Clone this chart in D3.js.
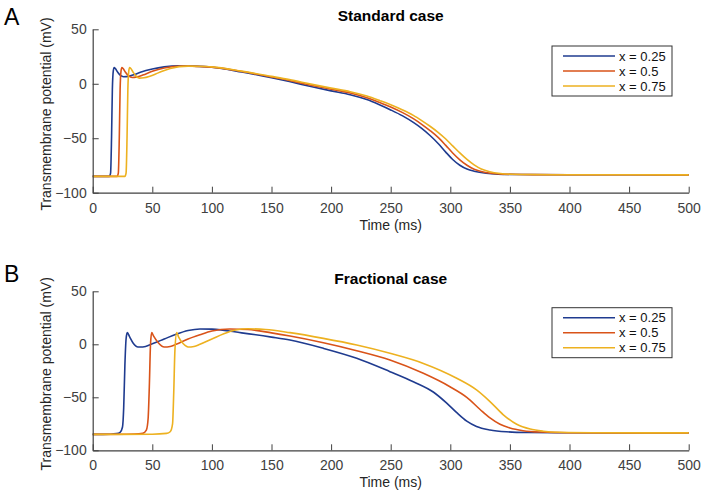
<!DOCTYPE html>
<html>
<head>
<meta charset="utf-8">
<script src="https://cdn.jsdelivr.net/npm/d3@7"></script>
<style>
  body { margin: 0; background: #fff; }
  svg { display: block; font-family: "Liberation Sans", Arial, sans-serif; }
</style>
</head>
<body>
<svg id="chart" width="703" height="494"></svg>
<script>
// series labels, colours
var seriesNames = ["x = 0.25", "x = 0.5", "x = 0.75"];
var seriesColors = ["#1f3b8f", "#d95319", "#edb120"];

var xTicks = [0, 50, 100, 150, 200, 250, 300, 350, 400, 450, 500];
var yTicks = [-100, -50, 0, 50];

// panel A, standard case: [time ms, potential mV]
var stdX025 = [[0,-85],[14,-85],[15,-82],[15.8,-50],[16.5,-5],[17.3,12],[18,15],[19,14],[21,10.5],[23,8],[26,6.5],[30,6.8],[35,8.5],[40,10.5],[50,13.5],[60,15.5],[72,16.5],[85,16.2],[100,15.2],[125,10.8],[150,5.5],[165,2],[183,-2.5],[200,-6.5],[216,-10],[230,-14.5],[241,-19.5],[250,-24],[260,-29.5],[269,-35.5],[276,-41],[283,-47.5],[290,-55],[296,-62.5],[302,-69.5],[308,-74.8],[314,-78.3],[320,-80.3],[330,-82.2],[340,-83],[355,-83.3],[400,-83.5],[500,-83.6]];
var stdX05 = [[0,-85],[20.5,-85],[21.5,-82],[22.3,-50],[23,-5],[23.8,12],[24.5,15],[25.5,14],[27.5,10.5],[30,7.5],[33,5.8],[37,6.3],[42,8],[50,11.5],[60,14.5],[75,16.3],[90,15.8],[100,15.3],[125,11.2],[150,6.2],[165,3],[183,-1.3],[200,-5],[216,-8.5],[230,-12.8],[241,-17.3],[250,-21.3],[260,-26.5],[269,-32],[276,-37.2],[283,-43],[290,-49.5],[296,-56.3],[302,-63.5],[308,-69.8],[314,-74.8],[320,-78.5],[326,-80.6],[334,-82.2],[345,-83],[360,-83.3],[400,-83.5],[500,-83.6]];
var stdX075 = [[0,-85],[27,-85],[28,-82],[28.8,-50],[29.5,-5],[30.3,12],[31,15],[32,14],[34,10.5],[36,7.5],[39,5.2],[43,5.5],[48,7],[55,10],[65,14],[80,16.2],[95,15.8],[100,15.5],[125,11.6],[150,6.8],[165,3.8],[183,-0.3],[200,-4],[216,-7.3],[230,-11.3],[241,-15.5],[250,-19.2],[260,-24],[269,-29],[276,-33.8],[283,-39],[290,-44.8],[296,-50.5],[302,-57],[308,-63.5],[314,-69.5],[320,-74.5],[326,-78.3],[333,-80.8],[342,-82.4],[352,-83.1],[365,-83.3],[400,-83.5],[500,-83.6]];

// panel B, fractional case
var fracX025 = [[0,-85],[15,-84.8],[20,-84.3],[23,-83],[25,-78],[26,-60],[27,-20],[28,5],[29,11],[31,7],[34,1],[38,-2.5],[42,-2.5],[50,0.5],[60,5],[70,9.5],[80,13],[90,14.5],[100,14.3],[125,10.8],[150,6.8],[165.5,4],[193.5,-3.8],[221.5,-13.2],[249.4,-25.8],[269,-35.3],[285.7,-45],[297,-55.5],[305.4,-64.5],[313.8,-72.5],[322,-77.5],[333.3,-80.8],[347,-82.5],[365,-83.2],[400,-83.5],[500,-83.6]];
var fracX05 = [[0,-85],[35,-84.6],[42,-84],[45,-81],[46.5,-70],[47.5,-40],[48.5,0],[49.5,11],[51,8],[55,1.5],[60,-2.5],[65,-2],[70,0],[80,5],[90,9],[100,12.5],[115,14.5],[130,14],[150,10.8],[165.5,7.8],[193.5,1.5],[221.5,-6],[249.4,-14.8],[277.4,-27.4],[299.7,-40],[313.8,-50],[325,-61.5],[333.3,-69.5],[341.7,-75.5],[350,-79],[361,-81.5],[375,-82.8],[400,-83.4],[500,-83.6]];
var fracX075 = [[0,-85],[50,-84.8],[62,-84],[65,-82.5],[67,-75],[68,-45],[69,-5],[70.5,11],[72,7],[76,0.5],[80,-2.5],[85,-2],[90,0],[100,5],[110,10],[120,13.5],[130,14.6],[145,14],[165.5,11],[193.5,5.6],[221.5,-0.7],[249.4,-8.5],[277.4,-18],[305.4,-32],[322,-43],[333.3,-54],[344.5,-66.5],[355.7,-75.5],[367,-80],[378,-82],[392,-83],[420,-83.4],[500,-83.6]];

var svg = d3.select("#chart");
var axisColor = "#404040";

function drawPanel(p) {
    var x = d3.scaleLinear().domain([0, 500]).range([92.7, 688.7]);
    var y = d3.scaleLinear().domain([-100, 50]).range([p.bottom, p.top]);

    var g = svg.append("g");

    // panel letter and title
    g.append("text").attr("x", 4).attr("y", p.letterY)
        .style("font-size", "23px").text(p.letter);
    g.append("text").attr("x", 390.7).attr("y", p.titleY)
        .attr("text-anchor", "middle")
        .style("font-size", "15.5px").style("font-weight", "bold")
        .text(p.title);

    var line = d3.line()
        .curve(d3.curveMonotoneX)
        .x(function (d) { return x(d[0]); })
        .y(function (d) { return y(d[1]); });

    g.selectAll(".trace")
        .data(p.series)
        .enter().append("path")
        .attr("class", "trace")
        .attr("d", function (d) { return line(d); })
        .attr("fill", "none")
        .attr("stroke-width", 1.6)
        .attr("stroke", function (d, i) { return seriesColors[i]; });

    // axes, MATLAB style: inward ticks, no box
    var xAxis = g.append("g")
        .attr("transform", "translate(0," + y(-100) + ")")
        .call(d3.axisBottom(x).tickValues(xTicks).tickSize(-6).tickPadding(10).tickSizeOuter(0));
    var yAxis = g.append("g")
        .attr("transform", "translate(" + x(0) + ",0)")
        .call(d3.axisLeft(y).tickValues(yTicks).tickSize(-6).tickPadding(6).tickSizeOuter(0));

    [xAxis, yAxis].forEach(function (a) {
        a.select(".domain").attr("stroke", axisColor).attr("stroke-width", 1.2);
        a.selectAll(".tick line").attr("stroke", axisColor);
        a.selectAll(".tick text").attr("fill", axisColor)
            .style("font-size", "14px").style("font-family", "'Liberation Sans', Arial, sans-serif");
    });

    g.append("text")
        .attr("x", 390.7).attr("y", p.bottom + 37)
        .attr("text-anchor", "middle")
        .attr("fill", "#262626")
        .style("font-size", "14px")
        .text("Time (ms)");

    g.append("text")
        .attr("transform", "translate(51," + ((p.top + p.bottom) / 2 + 3) + ") rotate(-90)")
        .attr("text-anchor", "middle")
        .attr("fill", "#262626")
        .style("font-size", "14px")
        .text("Transmembrane potential (mV)");

    // legend
    var lg = g.append("g").attr("transform", "translate(552," + p.legendY + ")");
    lg.append("rect")
        .attr("width", 120).attr("height", 50)
        .attr("fill", "#fff").attr("stroke", "#333").attr("stroke-width", 1);
    var items = lg.selectAll(".item")
        .data(seriesNames)
        .enter().append("g")
        .attr("class", "item")
        .attr("transform", function (d, i) { return "translate(0," + (10 + i * 15) + ")"; });
    items.append("line")
        .attr("x1", 11).attr("x2", 63)
        .attr("stroke-width", 1.6)
        .attr("stroke", function (d, i) { return seriesColors[i]; });
    items.append("text")
        .attr("x", 67).attr("y", 4.5)
        .style("font-size", "13px")
        .attr("fill", "#111")
        .text(function (d) { return d; });
}

drawPanel({ letter: "A", letterY: 25, title: "Standard case", titleY: 21,
    top: 29.3, bottom: 192.7, legendY: 46, series: [stdX025, stdX05, stdX075] });
drawPanel({ letter: "B", letterY: 281.5, title: "Fractional case", titleY: 284,
    top: 291.3, bottom: 450.3, legendY: 307.7, series: [fracX025, fracX05, fracX075] });
</script>
</body>
</html>
